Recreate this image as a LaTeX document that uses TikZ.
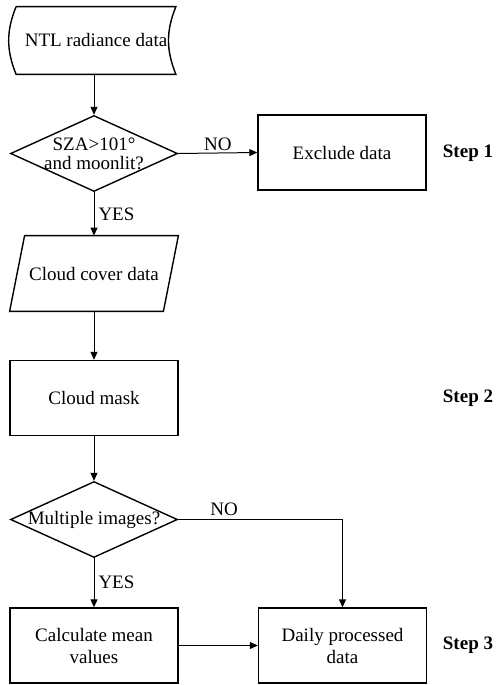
\documentclass[tikz,border=0pt]{standalone}
\usepackage{fontspec}
\setmainfont{Liberation Serif}
\usepackage{tikz}
\usetikzlibrary{arrows.meta, positioning, calc, shapes.geometric}

\begin{document}
\begin{tikzpicture}[x=0.5pt, y=-0.5pt,
    every node/.style={font=\fontsize{9.5}{11}\selectfont},
    box/.style={draw, line width=0.7pt, minimum width=84pt, minimum height=37.5pt, align=center},
    stored/.style={minimum width=79.5pt, minimum height=33.5pt},
    slanted/.style={minimum width=76.5pt, minimum height=37.5pt},
    decision/.style={draw, diamond, line width=0.7pt, minimum width=83.5pt, minimum height=38pt, inner sep=0pt},
    arr/.style={line width=0.5pt, -{Triangle[length=4pt, width=3.5pt]}},
    steplabel/.style={font=\fontsize{9.5}{11}\selectfont\bfseries}]
    \useasboundingbox (0,0) rectangle (501,685);

    \node[stored] (ntl) at (96,40.5) {NTL radiance data};
    \draw[line width=0.7pt] (ntl.north west) -- (ntl.north east) to[bend right=22] (ntl.south east)
        -- (ntl.south west) to[bend left=22] (ntl.north west);

    \node[decision] (q1) at (94,153.5) {};
    \node[align=center, font=\fontsize{9.5}{9.5}\selectfont] (q1txt) at (q1) {SZA>101°\\and moonlit?};
    \node[box] (excl) at (342,152.5) {Exclude data};
    \node[steplabel] (s1) at (468,153) {Step 1};

    \node[slanted] (cloud) at (94,273.5) {Cloud cover data};
    \draw[line width=0.7pt] ([xshift=3.75pt]cloud.north west) -- ([xshift=3.75pt]cloud.north east)
        -- ([xshift=-3.75pt]cloud.south east) -- ([xshift=-3.75pt]cloud.south west) -- cycle;

    \node[box] (mask) at (94,398) {Cloud mask};
    \node[steplabel] (s2) at (468,398) {Step 2};

    \node[decision] (q2) at (94,519.5) {};
    \node (q2txt) at (q2) {Multiple images?};

    \node[box] (calc) at (94,645.5) {Calculate mean\\values};
    \node[box] (daily) at (342.5,645.5) {Daily processed\\data};
    \node[steplabel] (s3) at (468,645) {Step 3};

    \draw[arr] (ntl.south -| q1.north) -- (q1.north);
    \draw[arr] (q1.east) -- (excl.west) node[midway, above, inner sep=1pt] {NO};
    \draw[arr] (q1.south) -- (cloud.north) node[midway, right, inner sep=2pt] {YES};
    \draw[arr] (cloud.south) -- (mask.north);
    \draw[arr] (mask.south) -- (q2.north);
    \draw[arr] (q2.south) -- (calc.north) node[midway, right, inner sep=2pt] {YES};
    \draw[arr] (q2.east) -| (daily.north) node[pos=0.14, above, inner sep=1.5pt] {NO};
    \draw[arr] (calc.east) -- (daily.west);
\end{tikzpicture}
\end{document}
